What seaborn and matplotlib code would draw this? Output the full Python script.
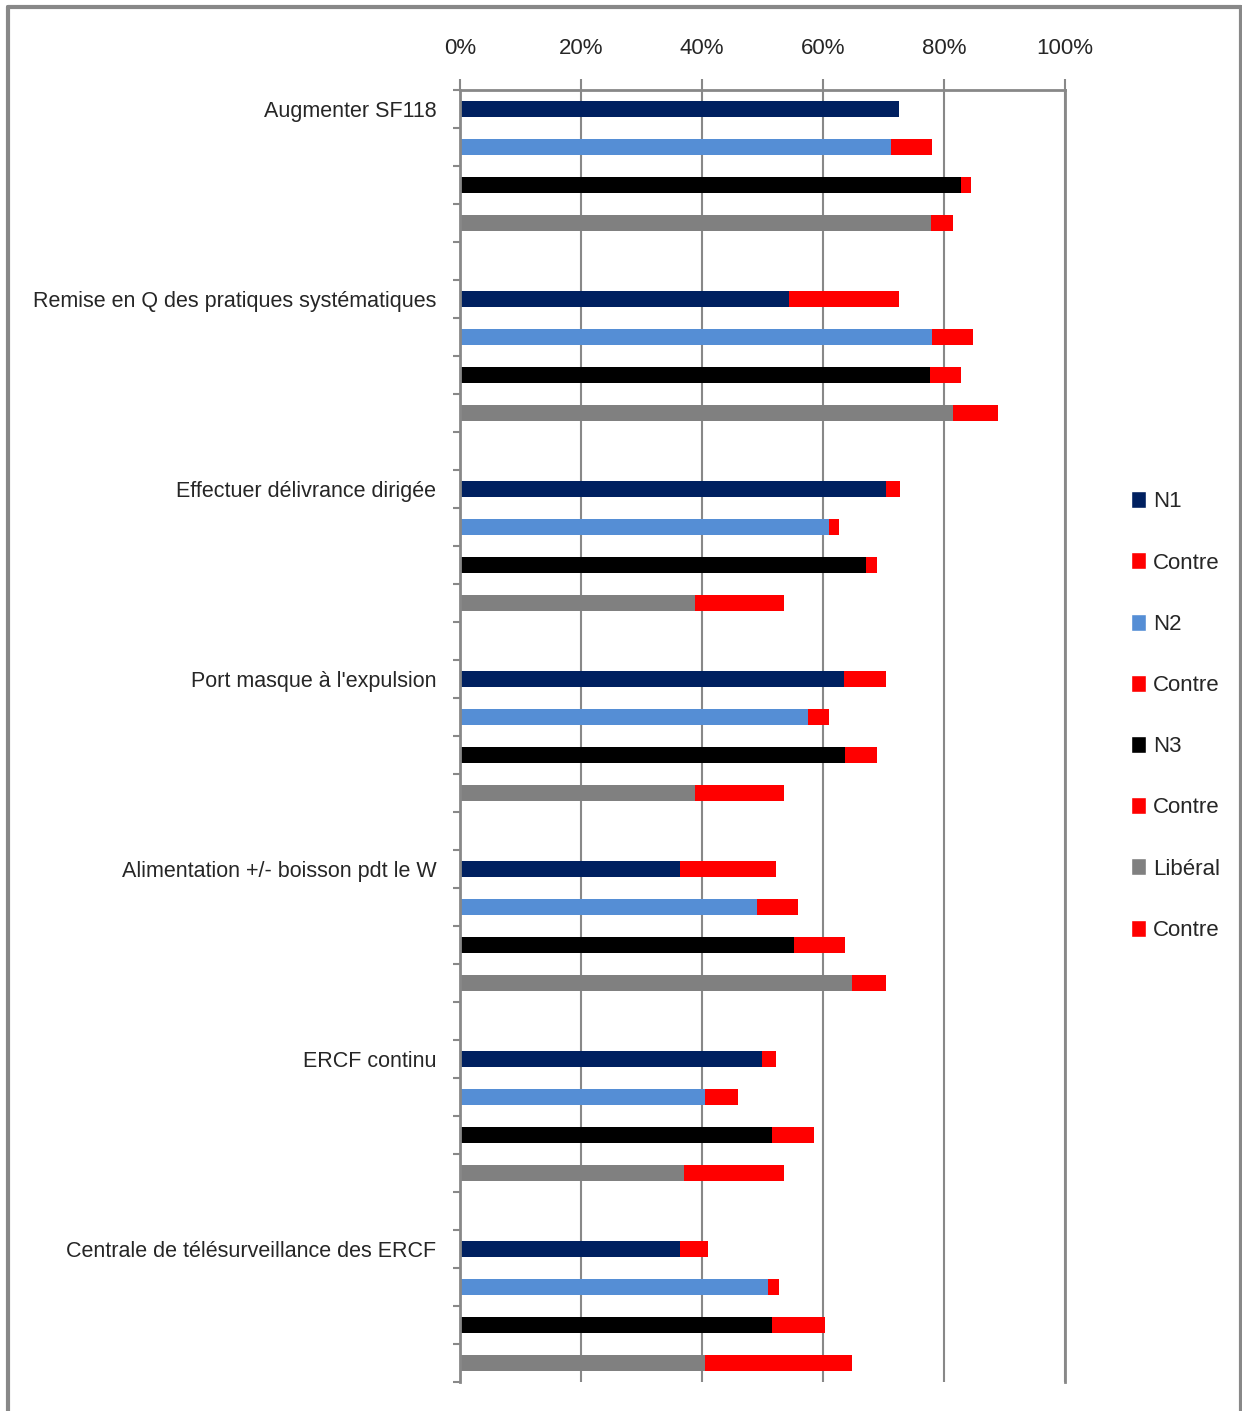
import numpy as np
import pandas as pd
import seaborn as sns
import matplotlib.pyplot as plt
from matplotlib.patches import Patch
from matplotlib.lines import Line2D

# Données (en %)
groupes = [
    "Augmenter SF118",
    "Remise en Q des pratiques systématiques",
    "Effectuer délivrance dirigée",
    "Port masque à l'expulsion",
    "Alimentation +/- boisson pdt le W",
    "ERCF continu",
    "Centrale de télésurveillance des ERCF",
]
n1 = [72.6, 54.4, 70.4, 63.5, 36.4, 49.9, 36.4]
n1_contre = [0.0, 18.2, 2.3, 6.9, 15.9, 2.3, 4.6]
n2 = [71.2, 78.0, 61.0, 57.5, 49.1, 40.5, 50.9]
n2_contre = [6.8, 6.8, 1.7, 3.5, 6.8, 5.5, 1.8]
n3 = [82.8, 77.7, 67.1, 63.6, 55.2, 51.6, 51.6]
n3_contre = [1.7, 5.1, 1.8, 5.3, 8.4, 6.9, 8.8]
liberal = [77.9, 81.5, 38.8, 38.8, 64.8, 37.0, 40.5]
liberal_contre = [3.6, 7.4, 14.7, 14.7, 5.6, 16.5, 24.3]

series = ["N1", "N2", "N3", "Libéral"]
couleurs = {"N1": "#002060", "N2": "#558ED5", "N3": "#000000", "Libéral": "#808080"}
rouge = "#FF0000"

sns.set_style("white")
plt.rcParams['font.family'] = ["Liberation Sans", "DejaVu Sans"]

# Construction du tableau long : une ligne par barre
lignes = []
for g, nom in enumerate(groupes):
    valeurs = [(n1[g], n1_contre[g]), (n2[g], n2_contre[g]),
               (n3[g], n3_contre[g]), (liberal[g], liberal_contre[g])]
    for s, (base, contre) in enumerate(valeurs):
        lignes.append({"rang": g * 5 + s, "serie": series[s],
                       "base": base, "total": base + contre})
df = pd.DataFrame(lignes)

fig = plt.figure(figsize=(12.42, 14.11), dpi=100)
ax = fig.add_axes([460 / 1242, 1 - 1382 / 1411, 605 / 1242, 1292 / 1411])

# Barres empilées : total (rouge) puis la part "pour" par-dessus
sns.barplot(data=df, x="total", y="rang", orient="h", native_scale=True,
            color=rouge, width=0.42, saturation=1, linewidth=0, ax=ax)
sns.barplot(data=df, x="base", y="rang", hue="serie", palette=couleurs,
            orient="h", native_scale=True, dodge=False, legend=False,
            width=0.42, saturation=1, linewidth=0, ax=ax)

ax.set_xlim(0, 100)
ax.set_ylim(33.5, -0.5)
ax.set_xlabel("")
ax.set_ylabel("")

# Axe des x en haut
ax.xaxis.tick_top()
ax.set_xticks(np.arange(0, 101, 20))
ax.set_xticklabels([f"{v}%" for v in range(0, 101, 20)], fontsize=16)
ax.tick_params(axis="x", top=True, bottom=False, length=8, width=1.5,
               color="#888888", pad=14)
ax.grid(axis="x", color="#888888", linewidth=1.5)
ax.grid(axis="y", visible=False)
ax.set_axisbelow(True)

# Libellés des groupes et petites graduations entre les lignes
ax.set_yticks([g * 5 for g in range(len(groupes))])
ax.set_yticklabels(groupes, fontsize=15.5)
ax.tick_params(axis="y", which="major", length=0, pad=17)
ax.set_yticks(np.arange(-0.5, 34, 1), minor=True)
ax.tick_params(axis="y", which="minor", left=True, length=5, width=1.5,
               color="#888888")

for cote in ["left", "top", "right"]:
    ax.spines[cote].set_color("#888888")
    ax.spines[cote].set_linewidth(2)
ax.spines["bottom"].set_visible(False)

# Légende
poignees = []
for s in series:
    poignees.append(Patch(facecolor=couleurs[s], label=s))
    poignees.append(Patch(facecolor=rouge, label="Contre"))
fig.legend(handles=poignees, loc="upper left",
           bbox_to_anchor=(1120 / 1242, 1 - 480 / 1411), frameon=False,
           fontsize=16, labelspacing=1.8, handlelength=0.65,
           handleheight=0.8, handletextpad=0.35, borderpad=0)

# Cadre du graphique
for x0, y0, x1, y1 in [(8, 7, 1241, 7), (8, 7, 8, 1411), (1241, 7, 1241, 1411)]:
    fig.add_artist(Line2D([x0 / 1242, x1 / 1242], [1 - y0 / 1411, 1 - y1 / 1411],
                          color="#888888", linewidth=3))

plt.savefig("out.png", dpi=100)
